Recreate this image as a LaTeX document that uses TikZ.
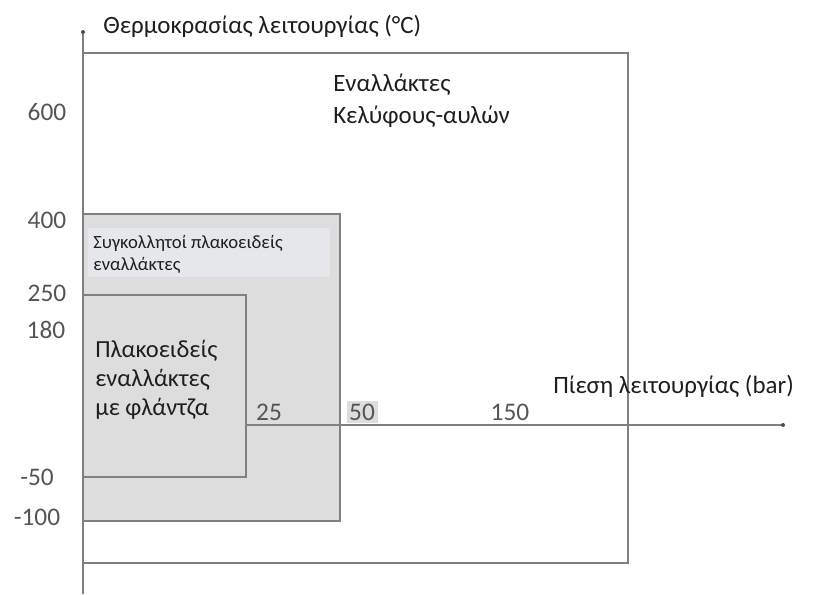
\documentclass[tikz,border=0pt]{standalone}
\usepackage{fontspec}
\setmainfont{Carlito}
\usepackage{tikz}

\definecolor{boxline}{RGB}{128,128,128}
\definecolor{boxfill}{RGB}{221,221,221}
\definecolor{notefill}{RGB}{229,231,235}
\definecolor{ticktext}{RGB}{85,85,85}
\definecolor{labeltext}{RGB}{30,30,30}

\begin{document}
\begin{tikzpicture}[x=0.75pt, y=-0.75pt,
		box/.style={draw=boxline, line width=1.6pt},
		axis/.style={draw=boxline, line width=1.2pt},
		ticklabel/.style={text=ticktext, inner sep=0pt, font=\fontsize{19}{19}\selectfont},
		biglabel/.style={text=labeltext, inner sep=0pt, align=left, anchor=base west, font=\fontsize{18.7}{23.3}\selectfont},
		boxlabel/.style={text=labeltext, inner sep=0pt, align=left, anchor=base west, font=\fontsize{18.4}{21.4}\selectfont}]
		\useasboundingbox (0,0) rectangle (823,594);
		\draw[box] (83,53) rectangle (628,563);
		\filldraw[box, fill=boxfill] (83,214) rectangle (340,521);
		\fill[notefill] (88,228) rectangle (330,277);
		\filldraw[box, fill=boxfill] (83,295) rectangle (246,477);
		\coordinate (origin) at (83,594);
		\coordinate (ytop) at (83,32);
		\coordinate (pstart) at (246,425);
		\coordinate (pend) at (783,425);
		\coordinate (bandstart) at (340,425);
		\coordinate (bandend) at (470,425);
		\draw[axis] (origin) -- (ytop);
		\draw[axis] (pstart) -- (pend);
		\draw[axis, line width=2.2pt] (bandstart) -- (bandend);
		\fill[boxline!60!black] (ytop) circle (2);
		\fill[boxline!60!black] (pend) circle (2);
		\foreach \v/\x/\y [count=\i] in {600/47/112, 400/47/220, 250/47/293, 180/46/330, -50/37/477, -100/37/517}
			\node[ticklabel] (ty\i) at (\x,\y) {\v};
		\node[ticklabel] (tx1) at (269,412) {25};
		\node[ticklabel, fill=boxfill, inner sep=2pt] (tx2) at (362,412) {50};
		\node[ticklabel] (tx3) at (510,412) {150};
		\node[biglabel] (ttitle) at (103,33) {Θερμοκρασίας λειτουργίας (°C)};
		\node[biglabel] (ptitle) at (553,393) {Πίεση λειτουργίας (bar)};
		\node[biglabel] (shell) at (333,123) {Εναλλάκτες\\Κελύφους-αυλών};
		\node[boxlabel] (gasket) at (95,415) {Πλακοειδείς\\εναλλάκτες\\με φλάντζα};
		\node[boxlabel, font=\fontsize{14}{16.5}\selectfont] (brazed) at (93,270) {Συγκολλητοί πλακοειδείς\\εναλλάκτες};
	\end{tikzpicture}
\end{document}
